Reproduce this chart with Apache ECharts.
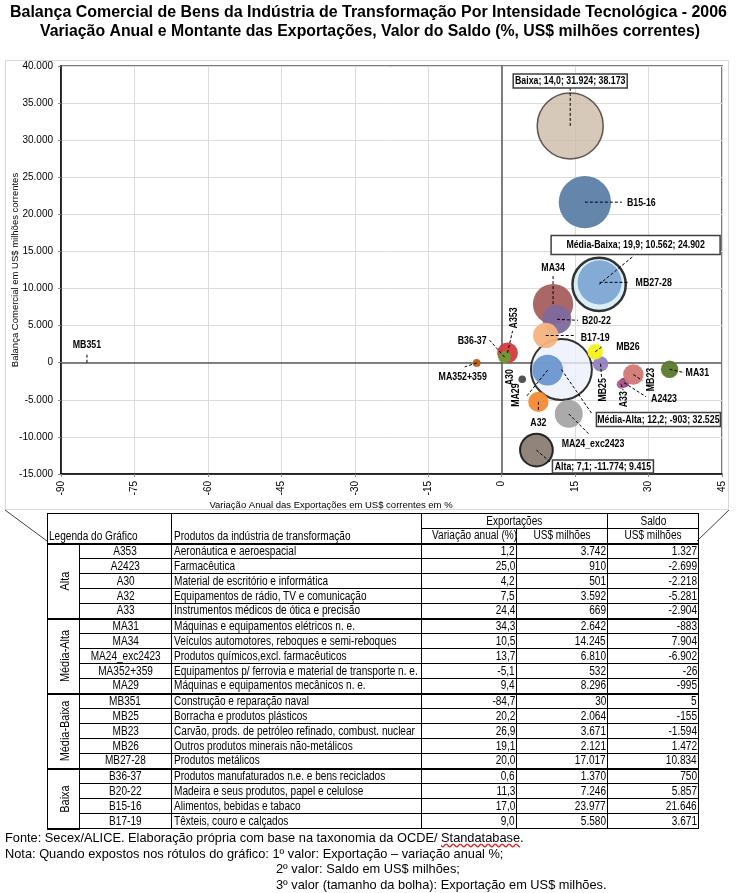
<!DOCTYPE html>
<html><head><meta charset="utf-8">
<script src="https://cdn.jsdelivr.net/npm/echarts@6/dist/echarts.min.js"></script>
<style>
body{margin:0;background:#fff;}
#chart{position:absolute;left:0;top:0;width:737px;height:893px;}
#tbl{position:absolute;left:47px;top:513px;width:651px;border-collapse:collapse;font-family:'Liberation Sans',Arial,sans-serif;font-size:12px;table-layout:fixed;color:#000;}
#tbl tr{height:15px;}
#tbl td{border:1px solid #000;padding:0 2px;line-height:13px;white-space:nowrap;overflow:hidden;}
#tbl td .s{display:inline-block;transform:scaleX(0.84);transform-origin:0 50%;}
#tbl td.c{text-align:center;}
#tbl td.c .s{transform-origin:50% 50%;}
#tbl td.r{text-align:right;padding-right:1px;}
#tbl td.r .s{transform-origin:100% 50%;}
#tbl td.lg{vertical-align:bottom;text-align:left;padding-left:1px;}
#tbl td.pr{vertical-align:bottom;}
#tbl tr.gs td{border-top:2px solid #000;}
#tbl td.grp{border-top:2px solid #000;border-bottom:2px solid #000;padding:0;position:relative;}
#tbl td.grp div{position:absolute;left:50%;top:50%;transform:translate(-50%,-50%) rotate(-90deg) scaleX(0.84);white-space:nowrap;font-size:13px;}
#foot{position:absolute;left:5px;top:830px;font-family:'Liberation Sans',Arial,sans-serif;font-size:12.8px;line-height:15.5px;color:#000;}
#foot .ind{padding-left:271px;}
.sp{text-decoration:underline wavy #e02020;text-decoration-skip-ink:none;}
</style>
</head><body>
<div id="chart"></div>
<table id="tbl"></table>
<div id="foot"></div>
<script>
// ---------------- DATA ----------------
const groups = ['Alta', 'Média-Alta', 'Média-Baixa', 'Baixa'];
const codes = ['A353','A2423','A30','A32','A33','MA31','MA34','MA24_exc2423','MA352+359','MA29','MB351','MB25','MB23','MB26','MB27-28','B36-37','B20-22','B15-16','B17-19'];
const groupOf = [0,0,0,0,0,1,1,1,1,1,2,2,2,2,2,3,3,3,3];
const produtos = [
  'Aeronáutica e aeroespacial',
  'Farmacêutica',
  'Material de escritório e informática',
  'Equipamentos de rádio, TV e comunicação',
  'Instrumentos médicos de ótica e precisão',
  'Máquinas e equipamentos elétricos n. e.',
  'Veículos automotores, reboques e semi-reboques',
  'Produtos químicos,excl. farmacêuticos',
  'Equipamentos p/ ferrovia e material de transporte n. e.',
  'Máquinas e equipamentos mecânicos  n. e.',
  'Construção e reparação naval',
  'Borracha e produtos plásticos',
  'Carvão, prods. de petróleo refinado, combust. nuclear',
  'Outros produtos minerais não-metálicos',
  'Produtos metálicos',
  'Produtos manufaturados n.e. e bens reciclados',
  'Madeira e seus produtos, papel e celulose',
  'Alimentos, bebidas e tabaco',
  'Têxteis, couro e calçados'
];
const variacao = [1.2, 25.0, 4.2, 7.5, 24.4, 34.3, 10.5, 13.7, -5.1, 9.4, -84.7, 20.2, 26.9, 19.1, 20.0, 0.6, 11.3, 17.0, 9.0];
const exportacoes = [3742, 910, 501, 3592, 669, 2642, 14245, 6810, 532, 8296, 30, 2064, 3671, 2121, 17017, 1370, 7246, 23977, 5580];
const saldo = [1327, -2699, -2218, -5281, -2904, -883, 7904, -6902, -26, -995, 5, -155, -1594, 1472, 10834, 750, 5857, 21646, 3671];
// group totals (Alta, Média-Alta, Média-Baixa, Baixa)
const totalVariacao = [7.1, 12.2, 19.9, 14.0];
const totalSaldo = [-11774, -903, 10562, 31924];
const totalExport = [9415, 32525, 24902, 38173];
const xTicks = [-90, -75, -60, -45, -30, -15, 0, 15, 30, 45];
const yTicks = [-15000, -10000, -5000, 0, 5000, 10000, 15000, 20000, 25000, 30000, 35000, 40000];
const titleLines = [
  'Balança Comercial de Bens da Indústria de Transformação Por Intensidade Tecnológica - 2006',
  'Variação Anual e Montante das Exportações, Valor do Saldo (%, US$ milhões correntes)'
];

// ---------------- STYLES ----------------
const bubbleColors = {
  'A353':'#d23c3c','A2423':'#8a4878','A30':'#4a4a4a','A32':'#f28b35','A33':'#b0588a',
  'MA31':'#5b7a2b','MA34':'#a65e5e','MA24_exc2423':'#a5a5a5','MA352+359':'#b85f10','MA29':'#6a96cf',
  'MB351':'#808080','MB25':'#9383be','MB23':'#d27777','MB26':'#f4f21c','MB27-28':'#7ea6d3',
  'B36-37':'#6d9a38','B20-22':'#7e6a9c','B15-16':'#5d7fa7','B17-19':'#f6b381'
};
const groupStyles = [
  {color:'#75675a', borderColor:'#000', borderWidth:2},
  {color:'#edf0fb', borderColor:'#000', borderWidth:2},
  {color:'#d3eaf3', borderColor:'#000', borderWidth:2.5},
  {color:'#cdbba8', borderColor:'#3e3229', borderWidth:1.5}
];
// label layout (pixel offsets from bubble centre): line end, text anchor, align, rotated
const itemLabelLayout = {
  'A353':{line:[5,-22], text:[6,-35], rot:true},
  'A2423':{line:[22,14], text:[27,16], align:'left'},
  'A30':{text:[-12,-2], rot:true},
  'A32':{line:[0,10], text:[0,21]},
  'A33':{line:[2,6], text:[3,15], rot:true},
  'MA31':{line:[13,3], text:[16,4], align:'left'},
  'MA34':{line:[0,-28], text:[0,-36]},
  'MA24_exc2423':{line:[21,21], text:[-7,30], align:'left'},
  'MA352+359':{line:[-12,4], text:[-14,14]},
  'MA29':{line:[-21,26], text:[-32,25], rot:true},
  'MB351':{line:[0,-10], text:[0,-18]},
  'MB25':{line:[1,14], text:[2,26], rot:true},
  'MB23':{line:[9,6], text:[18,5], rot:true},
  'MB26':{line:[8,-6], text:[21,-5], align:'left'},
  'MB27-28':{line:[30,0], text:[36,1], align:'left'},
  'B36-37':{line:[-15,-17], text:[-18,-16], align:'right'},
  'B20-22':{line:[21,1], text:[25,2], align:'left'},
  'B15-16':{line:[37,0], text:[42,1], align:'left'},
  'B17-19':{line:[30,0], text:[35,2], align:'left'}
};
const groupLabelLayout = [
  {line:[15,13], box:[16,10,101,13]},
  {line:[31,45], box:[35,43,124,14]},
  {line:[34,-28], box:[-48,-49,169,19]},
  {line:[0,-38], box:[-57,-52,114,14]}
];

// ---------------- HELPERS ----------------
function fmtInt(v){const s=Math.abs(Math.round(v)).toString().replace(/\B(?=(\d{3})+(?!\d))/g,'.');return (v<0?'-':'')+s;}
function fmt1(v){return (v<0?'-':'')+Math.abs(v).toFixed(1).replace('.',',');}
const sizeK = 0.338;
const FONT = '"Liberation Sans",Arial,sans-serif';
const LBL_FONT = 'bold 11px ' + FONT;
const LBL_SX = 0.8;
const mctx = document.createElement('canvas').getContext('2d');
function textW(t, f){mctx.font=f; return mctx.measureText(t).width;}
const TITLE_FONT = 'bold 16px ' + FONT;
const titleSX = [717/textW(titleLines[0], TITLE_FONT), 660/textW(titleLines[1], TITLE_FONT)];

// ---------------- CHART ----------------
const chart = echarts.init(document.getElementById('chart'), null, {renderer:'canvas'});
const groupData = groups.map((g,i)=>({name:g, value:[totalVariacao[i], totalSaldo[i], totalExport[i]], itemStyle:groupStyles[i]}));
const itemData = codes.map((c,i)=>({name:c, value:[variacao[i], saldo[i], exportacoes[i]], itemStyle:{color:bubbleColors[c], opacity:0.95}}));
const labelData = codes.map((c,i)=>({name:c, value:[variacao[i], saldo[i]]}));
const groupLabelData = groups.map((g,i)=>({name:g, value:[totalVariacao[i], totalSaldo[i]], text:g+'; '+fmt1(totalVariacao[i])+'; '+fmtInt(totalSaldo[i])+'; '+fmtInt(totalExport[i])}));

const option = {
  backgroundColor:'#fff',
  animation:false,
  graphic:[
    {type:'rect', shape:{x:5.5,y:60.5,width:723,height:449}, style:{fill:'none', stroke:'#d9d9d9', lineWidth:1}, z:-1},
    {type:'line', shape:{x1:5,y1:510,x2:47,y2:541}, style:{stroke:'#404040', lineWidth:1}},
    {type:'line', shape:{x1:729,y1:510,x2:697,y2:541}, style:{stroke:'#404040', lineWidth:1}},
    {type:'text', x:368.5, y:13, scaleX:titleSX[0], style:{text:titleLines[0], font:TITLE_FONT, fill:'#000', align:'center', verticalAlign:'middle'}},
    {type:'text', x:370, y:32, scaleX:titleSX[1], style:{text:titleLines[1], font:TITLE_FONT, fill:'#000', align:'center', verticalAlign:'middle'}}
  ],
  grid:{left:61, right:15, top:66, bottom:419, show:true, borderColor:'#7a7a7a', borderWidth:2, backgroundColor:'#fff', containLabel:false, outerBoundsMode:'none'},
  xAxis:{
    type:'value', min:xTicks[0], max:xTicks[xTicks.length-1], interval:15,
    axisLine:{onZero:false, lineStyle:{color:'#000', width:1.5}},
    axisTick:{show:true, length:3, lineStyle:{color:'#888'}},
    splitLine:{lineStyle:{color:'#dcdcdc', width:1}},
    axisLabel:{rotate:90, margin:7, fontFamily:FONT, fontSize:10, color:'#000', formatter:v=>String(v)},
    name:'Variação Anual das Exportações em US$ correntes em %', nameLocation:'middle', nameGap:26, nameMoveOverlap:false,
    nameTextStyle:{fontFamily:FONT, fontSize:9.5, color:'#000', padding:[0,121,0,0]}
  },
  yAxis:{
    type:'value', min:yTicks[0], max:yTicks[yTicks.length-1], interval:5000,
    axisLine:{onZero:false, lineStyle:{color:'#000', width:1.5}},
    axisTick:{show:true, length:3, lineStyle:{color:'#888'}},
    splitLine:{lineStyle:{color:'#dcdcdc', width:1}},
    axisLabel:{margin:8, fontFamily:FONT, fontSize:10, color:'#000', formatter:v=>fmtInt(v)},
    name:'Balança Comercial em US$ milhões correntes', nameLocation:'middle', nameGap:41, nameRotate:90, nameMoveOverlap:false,
    nameTextStyle:{fontFamily:FONT, fontSize:9.5, color:'#000'}
  },
  series:[
    {
      type:'scatter', name:'grupos', data:groupData, z:2,
      symbolSize:d=>sizeK*Math.sqrt(d[2]),
      markLine:{silent:true, symbol:'none', label:{show:false}, lineStyle:{color:'#5a5a5a', width:1.5, type:'solid'}, data:[{xAxis:0},{yAxis:0}], z:1}
    },
    {
      type:'scatter', name:'itens', data:itemData, z:3,
      symbolSize:d=>Math.max(1.5, sizeK*Math.sqrt(d[2]))
    },
    {
      type:'custom', name:'rotulos', data:labelData, z:5, clip:false,
      renderItem:(params, api)=>{
        const name = codes[params.dataIndex];
        const L = itemLabelLayout[name];
        const p = api.coord([api.value(0), api.value(1)]);
        const ch = [];
        if (L.line) ch.push({type:'line', shape:{x1:p[0], y1:p[1], x2:p[0]+L.line[0], y2:p[1]+L.line[1]}, style:{stroke:'#000', lineWidth:1, lineDash:[3,2]}});
        ch.push({type:'text', x:p[0]+L.text[0], y:p[1]+L.text[1], rotation:L.rot?Math.PI/2:0, scaleX:LBL_SX,
          style:{text:name, font:LBL_FONT, fill:'#000', align:L.align||'center', verticalAlign:'middle'}});
        return {type:'group', children:ch};
      }
    },
    {
      type:'custom', name:'rotulosGrupo', data:groupLabelData, z:6, clip:false,
      renderItem:(params, api)=>{
        const i = params.dataIndex;
        const L = groupLabelLayout[i];
        const p = api.coord([api.value(0), api.value(1)]);
        const b = L.box;
        return {type:'group', children:[
          {type:'line', shape:{x1:p[0], y1:p[1], x2:p[0]+L.line[0], y2:p[1]+L.line[1]}, style:{stroke:'#000', lineWidth:1, lineDash:[3,2]}},
          {type:'rect', shape:{x:p[0]+b[0], y:p[1]+b[1], width:b[2], height:b[3]}, style:{fill:'#fff', stroke:'#404040', lineWidth:1.5}},
          {type:'text', x:p[0]+b[0]+b[2]/2, y:p[1]+b[1]+b[3]/2+0.5, scaleX:LBL_SX, style:{text:groupLabelData[i].text, font:LBL_FONT, fill:'#000', align:'center', verticalAlign:'middle'}}
        ]};
      }
    }
  ]
};
chart.setOption(option);

// ---------------- TABLE ----------------
(function(){
  const widths=[32,92,250,95,91,91];
  const S=t=>'<span class="s">'+t+'</span>';
  let h='<colgroup>'+widths.map(w=>'<col style="width:'+w+'px">').join('')+'</colgroup>';
  h+='<tr><td colspan="2" rowspan="2" class="lg">'+S('Legenda do Gráfico')+'</td><td rowspan="2" class="pr">'+S('Produtos da indústria de transformação')+'</td><td colspan="2" class="c">'+S('Exportações')+'</td><td class="c">'+S('Saldo')+'</td></tr>';
  h+='<tr><td class="c">'+S('Variação anual (%)')+'</td><td class="c">'+S('US$ milhões')+'</td><td class="c">'+S('US$ milhões')+'</td></tr>';
  codes.forEach((c,i)=>{
    const first = i===0 || groupOf[i]!==groupOf[i-1];
    let cnt=0; if(first){for(let k=i;k<codes.length&&groupOf[k]===groupOf[i];k++)cnt++;}
    h+='<tr'+(first?' class="gs"':'')+'>';
    if(first) h+='<td rowspan="'+cnt+'" class="grp"><div>'+groups[groupOf[i]]+'</div></td>';
    h+='<td class="c">'+S(c)+'</td><td>'+S(produtos[i])+'</td><td class="r">'+S(fmt1(variacao[i]))+'</td><td class="r">'+S(fmtInt(exportacoes[i]))+'</td><td class="r">'+S(fmtInt(saldo[i]))+'</td></tr>';
  });
  document.getElementById('tbl').innerHTML=h;
  document.getElementById('foot').innerHTML=
    '<div>Fonte: Secex/ALICE. Elaboração própria com base na taxonomia da OCDE/ <span class="sp">Standatabase</span>.</div>'+
    '<div>Nota: Quando expostos nos rótulos do gráfico: 1º valor: Exportação – variação anual %;</div>'+
    '<div class="ind">2º valor: Saldo em US$ milhões;</div>'+
    '<div class="ind">3º valor (tamanho da bolha): Exportação em US$ milhões.</div>';
})();
</script>
</body></html>
